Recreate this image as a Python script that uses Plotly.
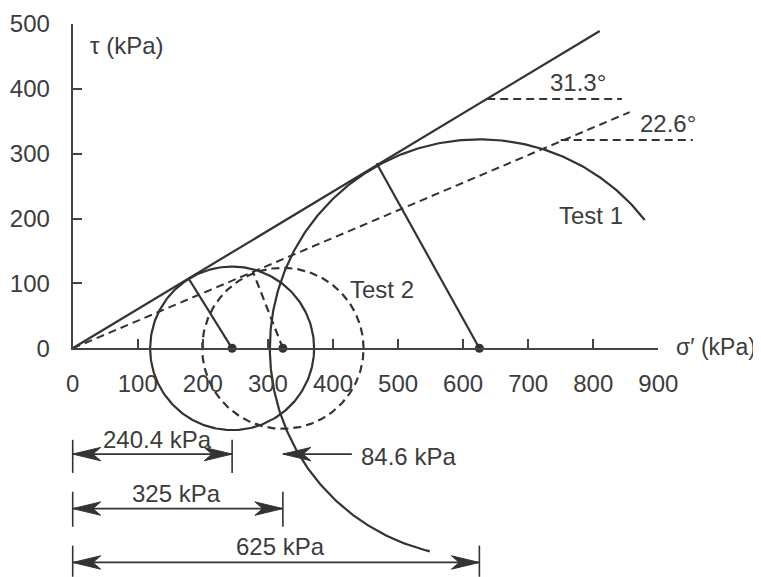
import numpy as np
import plotly.graph_objects as go

# ---- data ----
x_ticks = [0, 100, 200, 300, 400, 500, 600, 700, 800, 900]
y_ticks = [0, 100, 200, 300, 400, 500]

# failure envelopes (start at origin)
env_eff_end = [810, 489]     # solid, 31.3 deg
env_tot_end = [856, 364]     # dashed, 22.6 deg
angle_labels = ["31.3°", "22.6°"]
angle_ref_sigma = [[637, 844], [750, 953]]   # horizontal reference dashes
angle_ref_tau = [384, 321]
angle_label_pos = [[777, 409], [915, 346]]

# circles: center, radius, arc start/end angle (deg)
circ_centers = [625, 245, 323]
circ_radii = [322, 126, 124]
circ_arcs = [[37.9, 256.3], [0, 360], [0, 360]]
circ_dash = ["solid", "solid", "8px,5px"]
# radius lines to the tangent points
tangent_sigma = [467, 179, 277]
tangent_tau = [285, 106, 118]

circle_labels = ["Test 1", "Test 2"]
circle_label_pos = [[744, 205], [423, 91]]

# dimension lines
dim_labels = ["240.4 kPa", "325 kPa", "625 kPa"]
dim_ends = [245, 323, 625]
dim_level = [-163, -247, -330]
dim_label_pos = [[131, -140], [159, -223], [319, -306]]
ext_top = [-141, -221, -304]
ext_bottom = [-192, -275, -352]
pore_label = "84.6 kPa"
pore_tip = 323
pore_tail = 429
pore_level = -163
pore_label_pos = [440, -166]

INK = "#333333"
TXT = "#3c3c3c"
FONT = "Liberation Sans, Arial, sans-serif"
FS = 24

# the page body has an 8 px margin, so the figure is 8 px smaller and shifted
OFF = 8
W, H = 761 - OFF, 577 - OFF
x0px, kx = 72.7 - OFF, 0.6507
y0px, ky = 348.3 - OFF, 0.649
xr = [-x0px / kx, (W - x0px) / kx]
yr = [-(H - y0px) / ky, y0px / ky]

fig = go.Figure()

# envelopes
fig.add_trace(go.Scatter(x=[0, env_eff_end[0]], y=[0, env_eff_end[1]], mode="lines",
                         line=dict(color=INK, width=2.2), hoverinfo="skip"))
fig.add_trace(go.Scatter(x=[0, env_tot_end[0]], y=[0, env_tot_end[1]], mode="lines",
                         line=dict(color=INK, width=2, dash="8px,5px"), hoverinfo="skip"))
# angle reference dashes
for s, t in zip(angle_ref_sigma, angle_ref_tau):
    fig.add_trace(go.Scatter(x=s, y=[t, t], mode="lines",
                             line=dict(color=INK, width=2, dash="8px,5px"), hoverinfo="skip"))

# circles
for c, r, (a0, a1), d in zip(circ_centers, circ_radii, circ_arcs, circ_dash):
    th = np.radians(np.linspace(a0, a1, 300))
    fig.add_trace(go.Scatter(x=c + r * np.cos(th), y=r * np.sin(th), mode="lines",
                             line=dict(color=INK, width=2.2, dash=d), hoverinfo="skip"))
# radius lines
for c, ts, tt, d in zip(circ_centers, tangent_sigma, tangent_tau, circ_dash):
    fig.add_trace(go.Scatter(x=[c, ts], y=[0, tt], mode="lines",
                             line=dict(color=INK, width=2.2, dash=d), hoverinfo="skip"))
# centre dots
fig.add_trace(go.Scatter(x=circ_centers, y=[0] * len(circ_centers), mode="markers",
                         marker=dict(color=INK, size=9), hoverinfo="skip"))

# dimension lines
ext_x, ext_y = [], []
for e, yt, yb in zip(dim_ends, ext_top, ext_bottom):
    ext_x += [0, 0, None, e, e, None]
    ext_y += [yt, yb, None, yt, yb, None]
fig.add_trace(go.Scatter(x=ext_x, y=ext_y, mode="lines",
                         line=dict(color=INK, width=1.6), hoverinfo="skip"))
dim_x, dim_y = [], []
for e, lv in zip(dim_ends, dim_level):
    dim_x += [0, e, None]
    dim_y += [lv, lv, None]
dim_x += [pore_tip, pore_tail, None]
dim_y += [pore_level, pore_level, None]
fig.add_trace(go.Scatter(x=dim_x, y=dim_y, mode="lines",
                         line=dict(color=INK, width=1.8), hoverinfo="skip"))

# arrowheads (stealth shape), size in data units (~28 px long, ~13 px wide)
L, N, Wd = 43, 31, 10.3
heads = []
for e, lv in zip(dim_ends, dim_level):
    heads.append((0, lv, 1))
    heads.append((e, lv, -1))
heads.append((pore_tip, pore_level, 1))
hx, hy = [], []
for xt, lv, d in heads:
    hx += [xt, xt + d * L, xt + d * N, xt + d * L, xt, None]
    hy += [lv, lv + Wd, lv, lv - Wd, lv, None]
fig.add_trace(go.Scatter(x=hx, y=hy, mode="lines", fill="toself", fillcolor=INK,
                         line=dict(color=INK, width=1), hoverinfo="skip"))

# dummy trace for the visible axis frame
fig.add_trace(go.Scatter(x=[None], y=[None], xaxis="x2", yaxis="y2", showlegend=False))

ann = []
def txt(x, y, s, xanchor="center", size=FS):
    ann.append(dict(x=x, y=y, xref="x", yref="y", text=s, showarrow=False,
                    xanchor=xanchor, yanchor="middle",
                    font=dict(family=FONT, size=size, color=TXT)))

for s, (px_, py_) in zip(angle_labels, angle_label_pos):
    txt(px_, py_, s)
for s, (px_, py_) in zip(circle_labels, circle_label_pos):
    txt(px_, py_, s, "left")
for s, (px_, py_) in zip(dim_labels, dim_label_pos):
    txt(px_, py_, s)
txt(pore_label_pos[0], pore_label_pos[1], pore_label, "left")
txt(23.5, 467, "τ (kPa)", "left")
txt(1053, 2.5, "σ′ (kPa)", "right", 23)

axis_common = dict(showline=True, linecolor="#444444", linewidth=2, ticks="inside",
                   ticklen=9, tickwidth=2, tickcolor="#444444", showgrid=False,
                   zeroline=False, tickfont=dict(family=FONT, size=FS, color=TXT),
                   fixedrange=True, automargin=False)

fig.update_layout(
    template="none",
    width=W, height=H, autosize=False,
    margin=dict(l=0, r=0, t=0, b=0, pad=0),
    paper_bgcolor="white", plot_bgcolor="rgba(0,0,0,0)", showlegend=False,
    xaxis=dict(range=xr, visible=False, domain=[0, 1], fixedrange=True, automargin=False),
    yaxis=dict(range=yr, visible=False, domain=[0, 1], fixedrange=True, automargin=False),
    xaxis2=dict(domain=[x0px / W, (x0px + 900 * kx) / W], range=[0, 900], anchor="y2",
                tickvals=x_ticks, ticklabelstandoff=13, **axis_common),
    yaxis2=dict(domain=[(H - y0px) / H, (H - y0px + 500 * ky) / H], range=[0, 500],
                anchor="x2", tickvals=y_ticks, ticklabelstandoff=16, **axis_common),
    annotations=ann,
)

fig.write_html("out.html")
